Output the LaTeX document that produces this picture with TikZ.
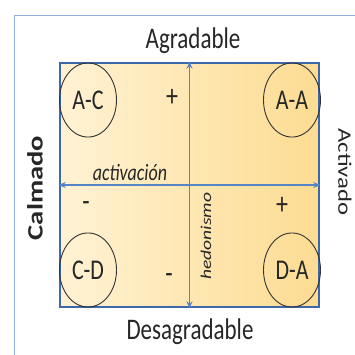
\documentclass[tikz,border=0pt]{standalone}
\usepackage{fontspec}
\setmainfont{Carlito}
\usetikzlibrary{arrows.meta}
\definecolor{marco}{HTML}{8DB0DC}
\definecolor{borde}{HTML}{3E68A8}
\definecolor{eje}{HTML}{5585C5}
\definecolor{claro}{HTML}{FFF2D4}
\definecolor{oscuro}{HTML}{FDDC92}

\begin{document}
\begin{tikzpicture}[x=1pt, y=-1pt,
    txt/.style = {yscale=1.3, inner sep=0pt, text=black!85},
    zona/.style = {circle, draw=black!80, line width=0.9pt, minimum size=57, inner sep=0pt, txt, font=\fontsize{22}{22}\selectfont},
    signo/.style = {txt, font=\fontsize{24}{24}\selectfont},
    eje/.style = {draw=eje, line width=1.2pt, {Stealth[length=7pt,width=6pt]}-{Stealth[length=7pt,width=6pt]}}]
        \useasboundingbox (0, 0) rectangle (355, 354);
        \draw [marco, line width=1pt] (14, 360) -- (14, 15) -- (360, 15);

        \node [draw=borde, line width=2.6pt, left color=claro, right color=oscuro, minimum width=259, minimum height=244, inner sep=0pt] (cuadro) at (189.5, 185) {};

        \draw [eje] (cuadro.west) -- (cuadro.east);
        \draw [eje] (cuadro.north) -- (cuadro.south);

        \node [zona] (ac) at (88, 100) {A-C};
        \node [zona] (aa) at (292, 100) {A-A};
        \node [zona] (cd) at (88, 270) {C-D};
        \node [zona] (da) at (292, 270) {D-A};

        \node [signo] (mas1) at (172, 98) {+};
        \node [signo] (menos1) at (86, 207) {-};
        \node [signo] (mas2) at (282, 206) {+};
        \node [signo] (menos2) at (169, 279) {-};

        \node [txt, font=\itshape\fontsize{18}{18}\selectfont] (activacion) at (130, 172) {activación};
        \node [txt, rotate=90, font=\itshape\fontsize{15}{15}\selectfont] (hedonismo) at (206, 236) {hedonismo};

        \node [txt, font=\fontsize{23}{23}\selectfont] (agradable) at (193, 41) {Agradable};
        \node [txt, font=\fontsize{23}{23}\selectfont] (desagradable) at (190, 332) {Desagradable};
        \node [txt, rotate=90, font=\bfseries\fontsize{22}{22}\selectfont] (calmado) at (35, 188) {Calmado};
        \node [txt, rotate=-90, font=\fontsize{19}{19}\selectfont] (activado) at (345, 172) {Activado};
\end{tikzpicture}
\end{document}
